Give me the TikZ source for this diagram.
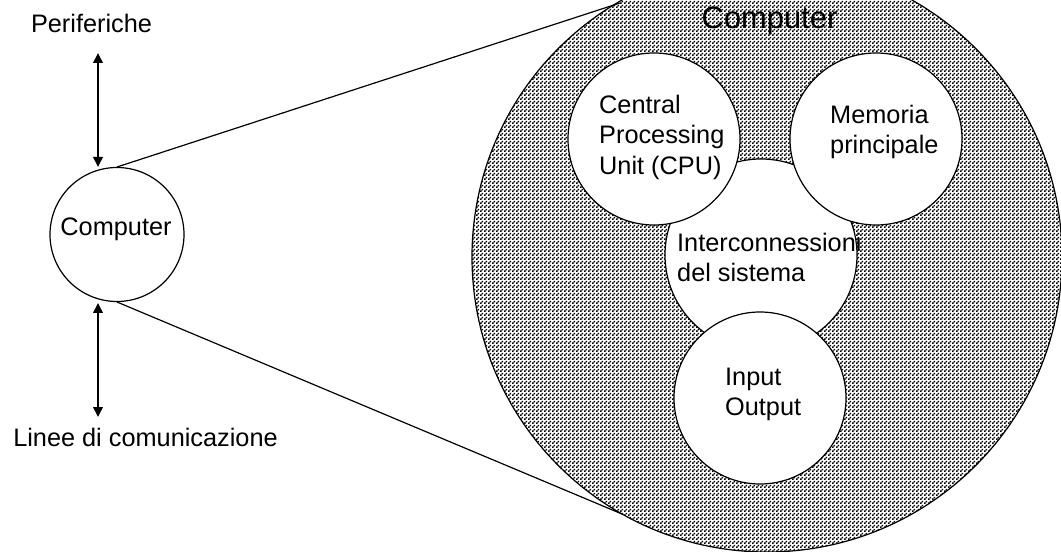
\documentclass[tikz,border=0pt]{standalone}
\usepackage{fontspec}
\setmainfont{Liberation Sans}
\usetikzlibrary{patterns,arrows.meta}
\pgfdeclarepatternformonly{chk}{\pgfqpoint{0pt}{0pt}}{\pgfqpoint{4.015pt}{4.015pt}}{\pgfqpoint{4.015pt}{4.015pt}}{
  \pgfpathrectangle{\pgfqpoint{0pt}{0pt}}{\pgfqpoint{2.0075pt}{2.0075pt}}
  \pgfpathrectangle{\pgfqpoint{2.0075pt}{2.0075pt}}{\pgfqpoint{2.0075pt}{2.0075pt}}
  \pgfusepath{fill}}
\tikzset{
  circ/.style={draw=black,line width=1.2bp,circle,inner sep=0pt,fill=white,minimum size=#1},
  lab/.style={font=\fontsize{25.4}{30.6}\selectfont,align=left,inner sep=0pt},
  dbl/.style={line width=2bp,{Triangle[width=9.5bp,length=10bp]}-{Triangle[width=9.5bp,length=10bp]}},
  thin1/.style={line width=1.2bp}
}
\begin{document}
\begin{tikzpicture}[x=1bp,y=-1bp]
\useasboundingbox (0,0) rectangle (1061,552);
\clip (0,0) rectangle (1061,552);
\node[circ=590bp,pattern=chk,pattern color=black] (big) at (767,257) {};
\node[circ=134bp] (small) at (117,234.5) {};
\node[circ=192bp] (inter) at (761,255) {};
\node[circ=172bp] (cpu) at (654,139) {};
\node[circ=172bp] (mem) at (876,139) {};
\node[circ=172bp] (io) at (760,398) {};
\coordinate (ta) at (117,167);
\coordinate (tb) at (620,3);
\coordinate (ba) at (117,302);
\coordinate (bb) at (622,514);
\draw[thin1] (ta) -- (tb);
\draw[thin1] (ba) -- (bb);
\node[lab,anchor=base] (tsmall) at (116,236) {Computer};
\node[lab,anchor=base] (tbig) at (769.5,29) {\fontsize{31}{36}\selectfont Computer};
\node[lab,anchor=north west] (tcpu) at (599,94.5) {Central\\Processing\\Unit (CPU)};
\node[lab,anchor=north west] (tmem) at (830,104.5) {Memoria\\principale};
\node[lab,anchor=north west] (tint) at (677,232.5) {Interconnessioni\\del sistema};
\node[lab,anchor=north west] (tio) at (725,367.5) {Input\\Output};
\node[lab,anchor=base] (per) at (91.5,33) {Periferiche};
\node[lab,anchor=base] (lin) at (145.5,446) {Linee di comunicazione};
\coordinate (a1) at (98,53);
\coordinate (a2) at (98,167);
\coordinate (a3) at (98,303);
\coordinate (a4) at (98,417);
\draw[dbl] (a1) -- (a2);
\draw[dbl] (a3) -- (a4);
\end{tikzpicture}
\end{document}
